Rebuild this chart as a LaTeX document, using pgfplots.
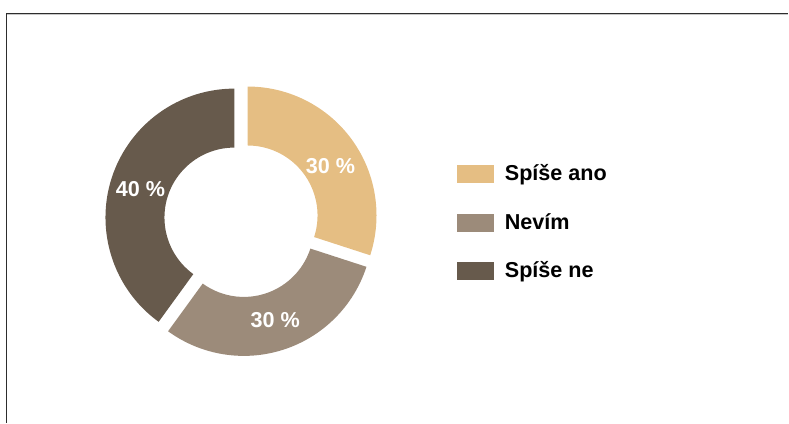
\documentclass[border=0pt]{standalone}
\usepackage{pgfplots}
\pgfplotsset{compat=1.18}
\usepackage{pgfplotstable}
\usepackage{fontspec}
\setmainfont{Liberation Sans}
\definecolor{cA}{HTML}{E5BE83}
\definecolor{cB}{HTML}{9C8B7A}
\definecolor{cC}{HTML}{675A4C}
\definecolor{frameA}{RGB}{45,45,45}
\definecolor{frameB}{RGB}{200,200,200}

\pgfplotstableread[col sep=comma]{
label,value
Spíše ano,30
Nevím,30
Spíše ne,40
}\piedata

\def\cx{241.7}
\def\cy{203}
\def\R{129}
\def\r{70}
\def\ex{7.5}

\newcommand{\slice}[3]{%
  \pgfmathsetmacro{\mid}{(#1+#2)/2}%
  \pgfmathsetmacro{\ox}{\cx+\ex*cos(\mid)}%
  \pgfmathsetmacro{\oy}{\cy+\ex*sin(\mid)}%
  \pgfmathsetmacro{\px}{\ox+\R*cos(#1)}%
  \pgfmathsetmacro{\py}{\oy+\R*sin(#1)}%
  \pgfmathsetmacro{\qx}{\ox+\r*cos(#2)}%
  \pgfmathsetmacro{\qy}{\oy+\r*sin(#2)}%
  \edef\temp{\noexpand\fill[#3] (axis cs:\px,\py) arc[start angle=#1,end angle=#2,radius=\R pt] -- (axis cs:\qx,\qy) arc[start angle=#2,end angle=#1,radius=\r pt] -- cycle;}%
  \temp
}

\begin{document}
\begin{tikzpicture}
\pgfplotstablegetelem{0}{value}\of\piedata \let\vA\pgfplotsretval
\pgfplotstablegetelem{1}{value}\of\piedata \let\vB\pgfplotsretval
\pgfplotstablegetelem{2}{value}\of\piedata \let\vC\pgfplotsretval
\pgfplotstablegetelem{0}{label}\of\piedata \let\lA\pgfplotsretval
\pgfplotstablegetelem{1}{label}\of\piedata \let\lB\pgfplotsretval
\pgfplotstablegetelem{2}{label}\of\piedata \let\lC\pgfplotsretval
\pgfmathsetmacro{\aA}{90}
\pgfmathsetmacro{\aB}{\aA-3.6*\vA}
\pgfmathsetmacro{\aC}{\aB-3.6*\vB}
\pgfmathsetmacro{\aD}{\aC-3.6*\vC}
\begin{axis}[
  x=1pt, y=1pt,
  xmin=0, xmax=789, ymin=0, ymax=423,
  hide axis, clip=false,
]
\path (axis cs:0,0) rectangle (axis cs:789,423);
% frame
\draw[frameB, line width=1pt] (axis cs:7.5,408.3) -- (axis cs:789,408.3);
\draw[frameA, line width=1.1pt] (axis cs:6.8,409.5) -- (axis cs:789,409.5);
\draw[frameA, line width=1.1pt] (axis cs:6.8,409.5) -- (axis cs:6.8,0);
% slices
\slice{\aA}{\aB}{cA}
\slice{\aB}{\aC}{cB}
\slice{\aC}{\aD}{cC}
% labels
\node[text=white, font=\bfseries\fontsize{21.6}{25}\selectfont, inner sep=0pt] at (axis cs:330.8,256.3) {\vA\ \%};
\node[text=white, font=\bfseries\fontsize{21.6}{25}\selectfont, inner sep=0pt] at (axis cs:275.5,103) {\vB\ \%};
\node[text=white, font=\bfseries\fontsize{21.6}{25}\selectfont, inner sep=0pt] at (axis cs:140.5,234) {\vC\ \%};
% legend
\fill[cA] (axis cs:457,258) rectangle (axis cs:494.5,240.3);
\fill[cB] (axis cs:457,209) rectangle (axis cs:494.5,191.3);
\fill[cC] (axis cs:457,161) rectangle (axis cs:494.5,143);
\node[anchor=base west, inner sep=0pt, font=\bfseries\fontsize{21.6}{25}\selectfont] at (axis cs:505,242) {\lA};
\node[anchor=base west, inner sep=0pt, font=\bfseries\fontsize{21.6}{25}\selectfont] at (axis cs:505,193) {\lB};
\node[anchor=base west, inner sep=0pt, font=\bfseries\fontsize{21.6}{25}\selectfont] at (axis cs:505,145) {\lC};
\end{axis}
\end{tikzpicture}
\end{document}
